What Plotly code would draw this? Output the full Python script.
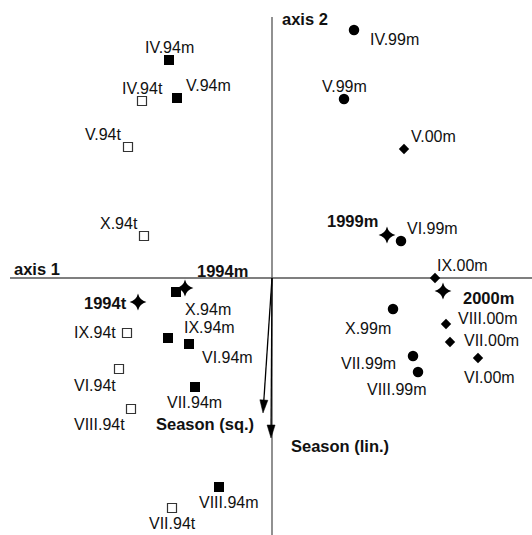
import math
import plotly.graph_objects as go

# ---- data: ordination scores (axis 1, axis 2) ----
m94_labels = ["IV.94m", "V.94m", "X.94m", "IX.94m", "VI.94m", "VII.94m", "VIII.94m"]
m94_x = [-1.03, -0.95, -0.96, -1.04, -0.83, -0.77, -0.53]
m94_y = [2.18, 1.80, -0.14, -0.60, -0.66, -1.09, -2.09]

t94_labels = ["IV.94t", "V.94t", "X.94t", "IX.94t", "VI.94t", "VIII.94t", "VII.94t"]
t94_x = [-1.30, -1.44, -1.28, -1.45, -1.53, -1.41, -1.00]
t94_y = [1.77, 1.31, 0.42, -0.55, -0.91, -1.31, -2.30]

m99_labels = ["IV.99m", "V.99m", "VI.99m", "X.99m", "VII.99m", "VIII.99m"]
m99_x = [0.82, 0.72, 1.29, 1.21, 1.41, 1.46]
m99_y = [2.48, 1.79, 0.37, -0.31, -0.78, -0.94]

m00_labels = ["V.00m", "IX.00m", "VIII.00m", "VII.00m", "VI.00m"]
m00_x = [1.32, 1.63, 1.74, 1.78, 2.06]
m00_y = [1.29, 0.00, -0.46, -0.64, -0.80]

cent_labels = ["1994m", "1994t", "1999m", "2000m"]
cent_x = [-0.87, -1.34, 1.15, 1.71]
cent_y = [-0.10, -0.24, 0.43, -0.13]

env_labels = ["Season (sq.)", "Season (lin.)"]
env_x = [-0.09, -0.01]
env_y = [-1.35, -1.60]

# ---- label placement (pixel offsets from each point) ----
label_offsets = {
    "IV.94m": (0, 13), "V.94m": (31, 13), "X.94m": (32, -17), "IX.94m": (41, 11),
    "VI.94m": (38, -13), "VII.94m": (-1, -15), "VIII.94m": (10, -15),
    "IV.94t": (0, 13), "V.94t": (-25, 13), "X.94t": (-25, 13), "IX.94t": (-32, 1),
    "VI.94t": (-24, -16), "VIII.94t": (-32, -15), "VII.94t": (0, -15),
    "IV.99m": (40, -9), "V.99m": (0, 13), "VI.99m": (31, 13), "X.99m": (-25, -19),
    "VII.99m": (-45, -7), "VIII.99m": (-21, -17),
    "V.00m": (29, 13), "IX.00m": (27, 13), "VIII.00m": (42, 6), "VII.00m": (41, 2),
    "VI.00m": (11, -19),
    "1994m": (37, 17), "1994t": (-33, -1), "1999m": (-35, 14), "2000m": (45, -7),
    "Season (sq.)": (-58, -11), "Season (lin.)": (69, -8),
}

FONT = "Liberation Sans, Arial, sans-serif"
TXT = "#111111"
FS = 16
FS_B = 16.5

fig = go.Figure()

# axis lines
AX_COL = "#555555"
fig.add_shape(type="line", x0=-2.62, x1=2.62, y0=0, y1=0,
              line=dict(color=AX_COL, width=1.3), layer="below")
fig.add_shape(type="line", x0=0, x1=0, y0=2.61, y1=-2.62,
              line=dict(color=AX_COL, width=1.3), layer="below")

# arrows (environmental variables)
HEAD_LEN, HEAD_HW = 0.13, 0.04
for ex, ey in zip(env_x, env_y):
    L = math.hypot(ex, ey)
    ux, uy = ex / L, ey / L
    bx, by = ex - ux * HEAD_LEN, ey - uy * HEAD_LEN
    px, py = -uy, ux
    fig.add_shape(type="line", x0=0, y0=0, x1=bx, y1=by,
                  line=dict(color="black", width=1.3))
    path = (f"M {ex},{ey} L {bx + px * HEAD_HW},{by + py * HEAD_HW} "
            f"L {bx - px * HEAD_HW},{by - py * HEAD_HW} Z")
    fig.add_shape(type="path", path=path, fillcolor="black",
                  line=dict(color="black", width=0.5))

# markers
fig.add_trace(go.Scatter(x=m94_x, y=m94_y, mode="markers",
                         marker=dict(symbol="square", size=10, color="black",
                                     line=dict(width=0))))
fig.add_trace(go.Scatter(x=t94_x, y=t94_y, mode="markers",
                         marker=dict(symbol="square-open", size=9, color="#333333",
                                     line=dict(width=1.2))))
fig.add_trace(go.Scatter(x=m99_x, y=m99_y, mode="markers",
                         marker=dict(symbol="circle", size=10.5, color="black",
                                     line=dict(width=0))))
fig.add_trace(go.Scatter(x=m00_x, y=m00_y, mode="markers",
                         marker=dict(symbol="diamond", size=8, color="black",
                                     line=dict(width=0))))
fig.add_trace(go.Scatter(x=cent_x, y=cent_y, mode="markers",
                         marker=dict(symbol="star-diamond", size=12, color="black",
                                     line=dict(width=0))))

# labels
def add_labels(labels, xs, ys, bold=False):
    for lab, x, y in zip(labels, xs, ys):
        dx, dy = label_offsets[lab]
        fig.add_annotation(x=x, y=y, text=lab, showarrow=False,
                           xshift=dx, yshift=dy, xanchor="center", yanchor="middle",
                           font=dict(family=FONT, size=FS_B if bold else FS, color=TXT,
                                     weight="bold" if bold else "normal"))

add_labels(m94_labels, m94_x, m94_y)
add_labels(t94_labels, t94_x, t94_y)
add_labels(m99_labels, m99_x, m99_y)
add_labels(m00_labels, m00_x, m00_y)
add_labels(cent_labels, cent_x, cent_y, bold=True)
add_labels(env_labels, env_x, env_y, bold=True)

# axis titles
fig.add_annotation(x=-2.60, y=0, text="axis 1", showarrow=False, xanchor="left",
                   yanchor="bottom", yshift=-2,
                   font=dict(family=FONT, size=FS_B, color=TXT, weight="bold"))
fig.add_annotation(x=0.08, y=2.59, text="axis 2", showarrow=False, xanchor="left",
                   yanchor="middle",
                   font=dict(family=FONT, size=FS_B, color=TXT, weight="bold"))

fig.update_layout(
    width=532, height=535,
    margin=dict(l=0, r=0, t=0, b=0),
    paper_bgcolor="white", plot_bgcolor="white",
    showlegend=False,
    xaxis=dict(range=[-2.72, 2.60], visible=False, fixedrange=True),
    yaxis=dict(range=[-2.57, 2.78], visible=False, fixedrange=True),
)

fig.write_html("out.html",
               config={"displayModeBar": False, "staticPlot": True},
               post_script="document.body.style.margin='0';document.body.style.overflow='hidden';")
